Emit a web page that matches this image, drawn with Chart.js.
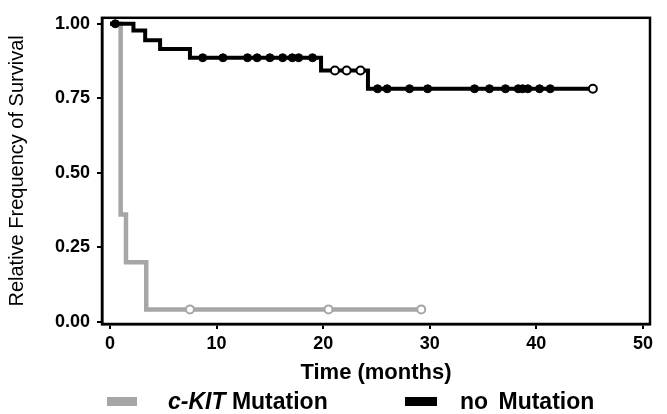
<!DOCTYPE html>
<html>
<head>
<meta charset="utf-8">
<script src="https://cdn.jsdelivr.net/npm/chart.js@4.4.1/dist/chart.umd.min.js"></script>
<style>
  html, body { margin: 0; padding: 0; background: #fff; }
  #wrap { position: relative; width: 667px; height: 414px; }
  .legend { position: absolute; top: 388px; line-height: 26px; font: bold 23px "Liberation Sans", Arial, sans-serif; color: #000; white-space: nowrap; }
  .swatch { position: absolute; top: 397px; height: 9px; }
</style>
</head>
<body>
<div id="wrap">
  <canvas id="kmChart" width="667" height="414"></canvas>
  <div class="swatch" style="left:107px;width:30px;background:#a6a6a6"></div>
  <div class="legend" style="left:168px"><i>c-KIT</i> Mutation</div>
  <div class="swatch" style="left:405px;width:32px;background:#000"></div>
  <div class="legend" style="left:460px;word-spacing:4px">no Mutation</div>
</div>
<script>
// Kaplan-Meier steps, no mutation (time in months, survival after the event)
const noMutTimes = [0, 2.2, 3.3, 4.7, 7.5, 19.8, 24.2, 45.3];
const noMutSurv = [1.0, 0.977, 0.945, 0.915, 0.886, 0.843, 0.782, 0.782];
// censored patients, no mutation
const noMutCensored = [0.5, 8.7, 10.6, 12.9, 13.8, 15.0, 16.2, 17.1, 17.7, 19.0,
                       25.1, 26.0, 28.1, 29.8, 34.2, 35.6, 37.1, 38.3, 38.7, 39.2, 40.3, 41.3];
const noMutCensoredOpen = [21.1, 22.2, 23.5, 45.3];

// Kaplan-Meier steps, c-KIT mutation
const kitTimes = [0, 1.0, 1.5, 3.4, 29.2];
const kitSurv = [1.0, 0.36, 0.20, 0.042, 0.042];
const kitCensored = [7.5, 20.5, 29.2];

const xTicks = [0, 10, 20, 30, 40, 50];
const yTicks = [0, 0.25, 0.5, 0.75, 1.0];

const GRAY = '#a6a6a6';
const FONT = '"Liberation Sans", Arial, sans-serif';

// survival value of a step curve at time t
function survAt(times, surv, t) {
    let s = surv[0];
    for (let i = 0; i < times.length; i++) {
        if (times[i] <= t) s = surv[i];
    }
    return s;
}

function toPoints(xs, ys) {
    return xs.map((x, i) => ({ x: x, y: ys[i] }));
}

function censorPoints(list, times, surv) {
    return list.map(t => ({ x: t, y: survAt(times, surv, t) }));
}

// frame around the plot area
const framePlugin = {
    id: 'frame',
    afterDatasetsDraw(chart) {
        const a = chart.chartArea;
        const ctx = chart.ctx;
        ctx.save();
        ctx.strokeStyle = '#000';
        ctx.lineWidth = 2.5;
        ctx.strokeRect(a.left, a.top, a.right - a.left, a.bottom - a.top);
        ctx.restore();
    }
};

new Chart(document.getElementById('kmChart'), {
    type: 'line',
    data: {
        datasets: [
            {
                label: 'no Mutation censored',
                type: 'scatter',
                data: censorPoints(noMutCensored, noMutTimes, noMutSurv),
                pointRadius: 4,
                pointBackgroundColor: '#000',
                pointBorderColor: '#000',
                pointBorderWidth: 1,
                order: 1
            },
            {
                label: 'no Mutation censored open',
                type: 'scatter',
                data: censorPoints(noMutCensoredOpen, noMutTimes, noMutSurv),
                pointRadius: 4,
                pointBackgroundColor: '#fff',
                pointBorderColor: '#000',
                pointBorderWidth: 2,
                order: 1
            },
            {
                label: 'no Mutation',
                data: toPoints(noMutTimes, noMutSurv),
                stepped: 'before',
                borderColor: '#000',
                borderWidth: 4,
                pointRadius: 0,
                fill: false,
                order: 2
            },
            {
                label: 'c-KIT censored',
                type: 'scatter',
                data: censorPoints(kitCensored, kitTimes, kitSurv),
                pointRadius: 4,
                pointBackgroundColor: '#fff',
                pointBorderColor: GRAY,
                pointBorderWidth: 2,
                order: 3
            },
            {
                label: 'c-KIT Mutation',
                data: toPoints(kitTimes, kitSurv),
                stepped: 'before',
                borderColor: GRAY,
                borderWidth: 4.5,
                pointRadius: 0,
                fill: false,
                order: 4
            }
        ]
    },
    options: {
        responsive: false,
        animation: false,
        layout: { padding: { top: 9, right: 17, bottom: 28, left: 0 } },
        plugins: {
            legend: { display: false },
            tooltip: { enabled: false }
        },
        scales: {
            x: {
                type: 'linear',
                min: -0.75,
                max: 50.66,
                afterBuildTicks: s => { s.ticks = xTicks.map(v => ({ value: v })); },
                afterFit: s => { s.height = 62; },
                ticks: {
                    color: '#000',
                    font: { family: FONT, size: 18, weight: 'bold' },
                    padding: 4,
                    maxRotation: 0
                },
                grid: { drawOnChartArea: false, drawTicks: true, tickLength: 5, color: '#000', lineWidth: 2 },
                border: { display: true, color: '#000', width: 2.5 },
                title: {
                    display: true,
                    text: 'Time (months)',
                    color: '#000',
                    font: { family: FONT, size: 22, weight: 'bold' },
                    padding: { top: 0, bottom: 0 }
                }
            },
            y: {
                min: -0.007,
                max: 1.02,
                afterBuildTicks: s => { s.ticks = yTicks.map(v => ({ value: v })); },
                afterFit: s => { s.width = 102; },
                ticks: {
                    color: '#000',
                    font: { family: FONT, size: 18, weight: 'bold' },
                    padding: 7,
                    callback: v => v.toFixed(2)
                },
                grid: { drawOnChartArea: false, drawTicks: true, tickLength: 5, color: '#000', lineWidth: 2 },
                border: { display: true, color: '#000', width: 2.5 },
                title: {
                    display: true,
                    text: 'Relative Frequency of Survival',
                    color: '#000',
                    font: { family: FONT, size: 20, weight: 'normal' },
                    padding: { top: 5, bottom: 0 }
                }
            }
        }
    },
    plugins: [framePlugin]
});
</script>
</body>
</html>
